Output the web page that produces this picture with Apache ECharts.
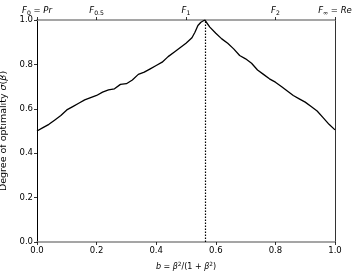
<!DOCTYPE html>
<html>
<head>
<meta charset="utf-8">
<script src="https://cdn.jsdelivr.net/npm/echarts@6/dist/echarts.min.js"></script>
<style>
html,body{margin:0;padding:0;background:#fff;}
#c{width:357px;height:276px;}
</style>
</head>
<body>
<div id="c"></div>
<script>
const bValues = [0.00,0.02,0.04,0.06,0.08,0.10,0.12,0.14,0.16,0.18,0.20,0.22,0.24,0.26,0.28,0.30,0.32,0.34,0.36,0.38,0.40,0.42,0.44,0.46,0.48,0.50,0.52,0.53,0.54,0.55,0.563,0.58,0.60,0.62,0.64,0.66,0.68,0.70,0.72,0.74,0.76,0.78,0.80,0.82,0.84,0.86,0.88,0.90,0.92,0.94,0.96,0.98,1.00];
const sigmaValues = [0.500,0.515,0.530,0.550,0.570,0.595,0.610,0.625,0.640,0.650,0.660,0.675,0.685,0.690,0.710,0.713,0.730,0.755,0.765,0.780,0.795,0.810,0.835,0.855,0.875,0.895,0.920,0.945,0.975,0.990,1.000,0.968,0.940,0.915,0.895,0.870,0.840,0.825,0.805,0.775,0.755,0.735,0.720,0.700,0.680,0.660,0.645,0.630,0.610,0.590,0.560,0.530,0.505];
const peakB = 0.563;
const bottomTickValues = [0, 0.2, 0.4, 0.6, 0.8, 1.0];
const leftTickValues = [0, 0.2, 0.4, 0.6, 0.8, 1.0];
const topTickValues = [0, 0.2, 0.5, 0.8, 1.0];
const topTickLabels = ['{i|F}{sub|0} = {i|Pr}', '{i|F}{sub|0.5}', '{i|F}{sub|1}', '{i|F}{sub|2}', '{i|F}{sub|∞} = {i|Re}'];
const xTitle = '{i|b} = {i|β}{sup|2}/(1 + {i|β}{sup|2})';
const yTitle = 'Degree of optimality {i|σ}({i|β})';

const FONT = 'DejaVu Sans';
function rich(size) {
  return {
    i: {fontStyle: 'italic', fontFamily: FONT, fontSize: size, color: '#000'},
    sub: {fontFamily: FONT, fontSize: size * 0.72, color: '#000', padding: [size * 0.6, 0, 0, 0]},
    sup: {fontFamily: FONT, fontSize: size * 0.72, color: '#000', padding: [0, 0, size * 0.5, 0]}
  };
}

const chart = echarts.init(document.getElementById('c'), null, {renderer: 'canvas'});
const fmt = v => v.toFixed(1);
chart.setOption({
  animation: false,
  backgroundColor: '#fff',
  grid: {left: 37, right: 22, top: 20, bottom: 34, containLabel: false, outerBoundsMode: 'none'},
  xAxis: [
    {
      type: 'value', min: 0, max: 1, position: 'bottom',
      name: xTitle, nameLocation: 'middle', nameGap: 20,
      nameTextStyle: {fontFamily: FONT, fontSize: 8, color: '#000', rich: rich(8)},
      axisLine: {show: true, onZero: false, lineStyle: {color: '#888', width: 1.6}},
      axisTick: {show: true, length: 3, customValues: bottomTickValues, lineStyle: {color: '#000', width: 0.8}},
      axisLabel: {customValues: bottomTickValues, formatter: fmt, fontFamily: FONT, fontSize: 8.5, color: '#000', margin: 4},
      splitLine: {show: false}
    },
    {
      type: 'value', min: 0, max: 1, position: 'top',
      axisLine: {show: true, onZero: false, lineStyle: {color: '#888', width: 1.6}},
      axisTick: {show: true, length: 3, customValues: topTickValues, lineStyle: {color: '#000', width: 0.8}},
      axisLabel: {
        customValues: topTickValues,
        formatter: v => { const k = topTickValues.findIndex(t => Math.abs(t - v) < 1e-6); return k >= 0 ? topTickLabels[k] : ''; },
        fontFamily: FONT, fontSize: 8.5, color: '#000', margin: 4, rich: rich(8.5)
      },
      splitLine: {show: false}
    }
  ],
  yAxis: [
    {
      type: 'value', min: 0, max: 1, position: 'left',
      name: yTitle, nameLocation: 'middle', nameGap: 24, nameRotate: 90,
      nameTextStyle: {fontFamily: FONT, fontSize: 9.5, color: '#000', rich: rich(9.5)},
      axisLine: {show: true, onZero: false, lineStyle: {color: '#000', width: 1}},
      axisTick: {show: true, length: 3, customValues: leftTickValues, lineStyle: {color: '#000', width: 0.8}},
      axisLabel: {customValues: leftTickValues, formatter: fmt, fontFamily: FONT, fontSize: 8.5, color: '#000', margin: 4},
      splitLine: {show: false}
    },
    {
      type: 'value', min: 0, max: 1, position: 'right',
      axisLine: {show: true, onZero: false, lineStyle: {color: '#333', width: 1}},
      axisTick: {show: false}, axisLabel: {show: false}, splitLine: {show: false}
    }
  ],
  series: [
    {
      type: 'line', xAxisIndex: 0, yAxisIndex: 0,
      data: bValues.map((b, k) => [b, sigmaValues[k]]),
      symbol: 'none', lineStyle: {color: '#000', width: 1.3},
      markLine: {
        silent: true, symbol: 'none', label: {show: false},
        lineStyle: {color: '#000', type: [1.5, 1.5], width: 1.2},
        data: [[{coord: [peakB, 0]}, {coord: [peakB, 1]}]]
      }
    }
  ]
});
</script>
</body>
</html>
